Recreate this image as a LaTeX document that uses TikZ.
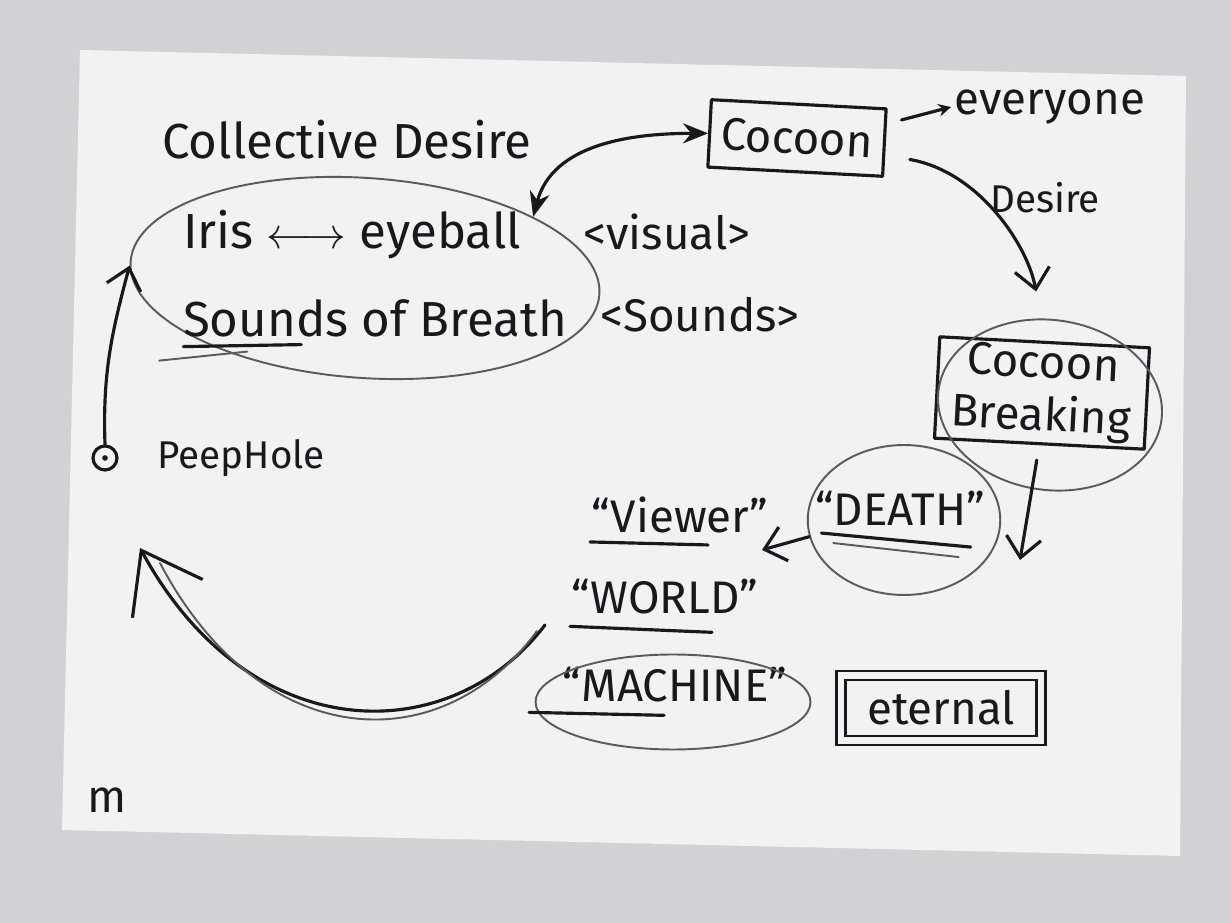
\documentclass[tikz,border=0pt]{standalone}
\usepackage{fontspec}
\setmainfont{Fira Sans}
\usetikzlibrary{shapes.geometric, arrows.meta, positioning, calc}
\definecolor{cInk}{RGB}{25,25,28}
\definecolor{cPencil}{RGB}{90,90,96}
\definecolor{cPaper}{RGB}{242,242,243}
\definecolor{cDesk}{RGB}{210,210,212}
\tikzset{
	hand/.style      ={text=cInk, inner sep=2pt, font=\fontsize{26}{30}\selectfont},
	handbig/.style   ={hand, font=\fontsize{28}{32}\selectfont},
	handsmall/.style ={hand, font=\fontsize{22}{26}\selectfont},
	inkline/.style   ={draw=cInk, line width=1.8pt, line cap=round, line join=round},
	pencil/.style    ={draw=cPencil, line width=1.1pt, line cap=round},
	boxed/.style     ={rectangle, inkline, align=center},
	ring/.style      ={ellipse, pencil, inner sep=0pt},
	solidarrow/.style={inkline, -{Stealth[length=5mm, width=4mm]}},
	barbarrow/.style ={inkline, -{Straight Barb[length=4mm, width=7mm]}},
}
\begin{document}
\begin{tikzpicture}[x=0.02cm, y=0.02cm]
	\useasboundingbox (0,0) rectangle (1231,923);
	\fill[cDesk] (0,0) rectangle (1231,923);
	\fill[cPaper] (80,873) -- (1186,847) -- (1180,67) -- (62,93) -- cycle;
	% memory ring
	\node[handbig] (title) at (347,783) {Collective Desire};
	\node[ring, minimum width=9.4cm, minimum height=4cm, rotate=-4] (memory) at (365,645) {};
	\node[handbig] (iris) at (352,688) {Iris $\longleftrightarrow$ eyeball};
	\node[hand] (visual) at (667,691) {<visual>};
	\node[handbig] (breath) at (375,605) {Sounds of Breath};
	\node[hand] (sounds) at (700,608) {<Sounds>};
	\draw[inkline] ($(breath.south west)+(4,-6)$) -- ++(118,2);
	\draw[pencil] ($(breath.south west)+(-20,-20)$) -- ++(88,9);
	% peephole
	\node[circle, inkline, minimum size=0.48cm, inner sep=0pt] (peep) at (105,465) {};
	\fill[cInk] (peep.center) circle (1.6pt);
	\node[handsmall, right=0.7cm of peep] (peeplabel) {PeepHole};
	\draw[barbarrow] (peep.north) to[out=92, in=-105] (memory.181);
	% cocoon and desire
	\node[boxed, hand, minimum width=3.5cm, minimum height=1.35cm, rotate=-3] (cocoon) at (797,785) {Cocoon};
	\node[hand] (everyone) at (1050,816) {everyone};
	\draw[inkline, -{Stealth[length=2.5mm, width=2.5mm]}, shorten <=0.3cm] (cocoon.12) -- (everyone.west);
	\draw[inkline, {Stealth[length=5mm, width=4mm]}-{Stealth[length=5mm, width=4mm]}] (memory.24) to[out=75, in=180] (cocoon.west);
	\node[handsmall] (desire) at (1045,725) {Desire};
	\node[boxed, hand, minimum width=4.2cm, minimum height=2cm, rotate=-3] (breaking) at (1042,530) {Cocoon\\Breaking};
	\node[ring, minimum width=4.5cm, minimum height=3.4cm, rotate=-8] (breakring) at (1050,518) {};
	\draw[barbarrow, shorten <=0.5cm, shorten >=1cm] (cocoon.-8) to[out=-10, in=100] (breaking.north);
	% death and the viewer side
	\node[ring, minimum width=3.85cm, minimum height=3cm] (deathring) at (904,403) {};
	\node[hand] (death) at (900,415) {``DEATH''};
	\draw[inkline] ($(death.south west)+(10,-4)$) -- ($(death.south east)+(-18,-18)$);
	\draw[pencil] ($(death.south west)+(22,-14)$) -- ($(death.south east)+(-30,-28)$);
	\coordinate (drop) at (1020,363);
	\draw[barbarrow, shorten <=0.3cm] (breaking.south) -- (drop);
	\node[hand] (viewer) at (680,408) {``Viewer''};
	\node[hand] (world) at (665,326) {``WORLD''};
	\node[hand] (machine) at (675,238) {``MACHINE''};
	\node[ring, minimum width=5.5cm, minimum height=1.9cm] (machring) at (673,221) {};
	\draw[inkline] ($(viewer.south west)+(2,-5)$) -- ++(118,-3);
	\draw[inkline] ($(world.south west)+(2,-8)$) -- ++(142,-6);
	\draw[inkline] ($(machine.south west)+(-30,-6)$) -- ++(135,-3);
	\draw[barbarrow] (deathring.190) -- ($(viewer.south east)+(-10,-13)$);
	\node[hand, rectangle, draw=cInk, line width=1.5pt, double=cPaper, double distance=3.5pt, minimum width=4cm, minimum height=1.3cm] (eternal) at (941,215) {eternal};
	% the long way back
	\coordinate (loopstart) at (545,298);
	\coordinate (loopend) at (140,375);
	\draw[inkline, -{Straight Barb[length=1.1cm, width=1.6cm]}] (loopstart) .. controls (450,173) and (250,173) .. (loopend);
	\draw[pencil] (loopstart) ++(-8,-6) .. controls (440,160) and (260,170) .. (160,360);
	\node[hand] (pagemark) at (107,123) {m};
\end{tikzpicture}
\end{document}
